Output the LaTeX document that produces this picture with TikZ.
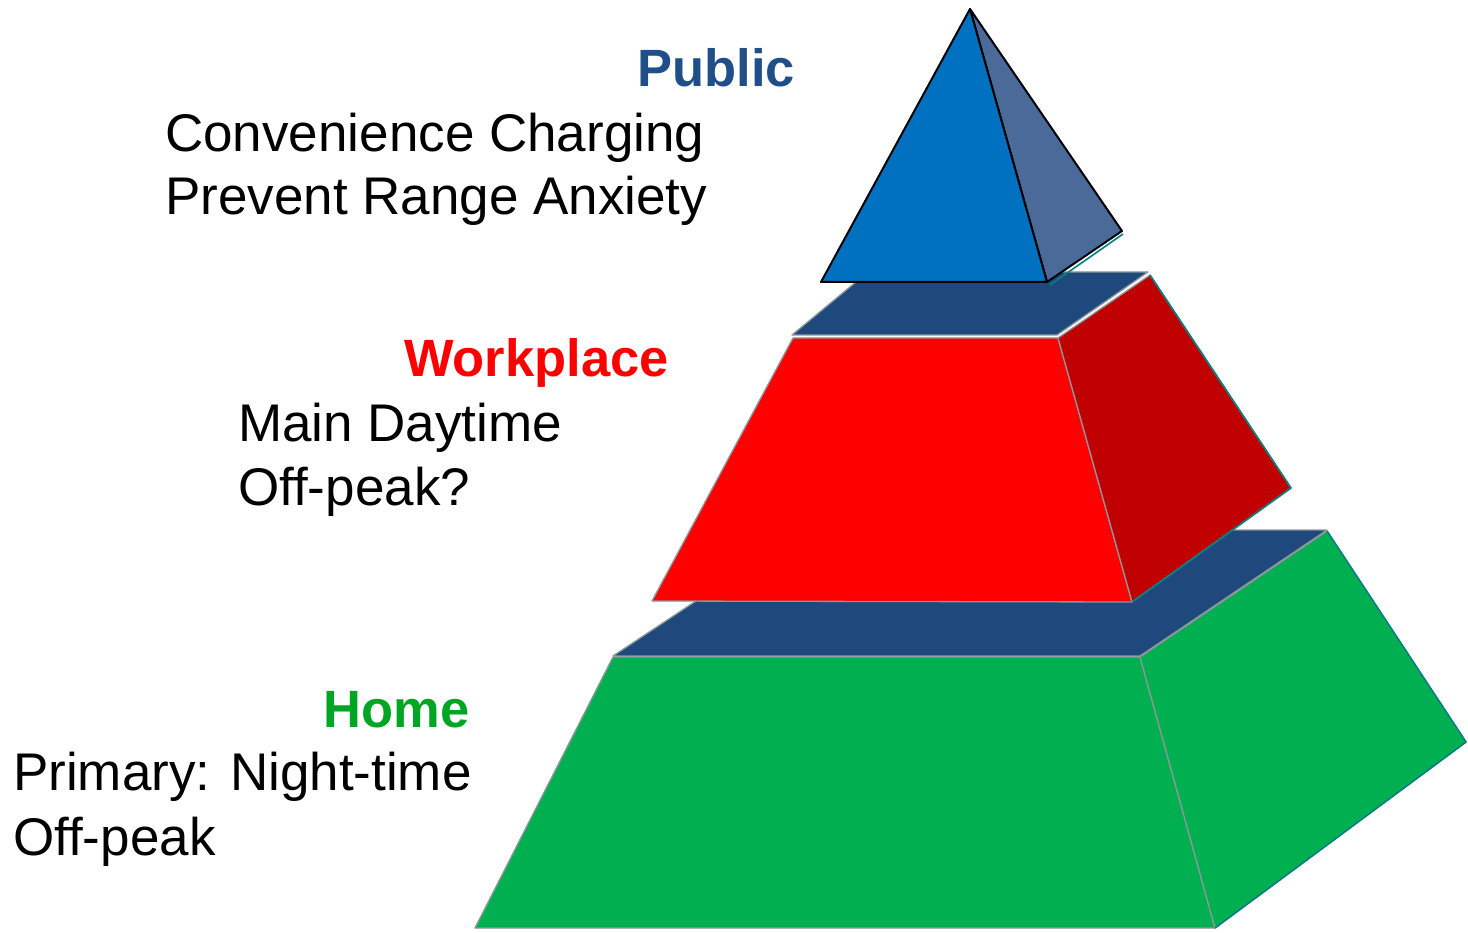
\documentclass[tikz,border=0pt]{standalone}
\usepackage{fontspec}
\setmainfont{Liberation Sans}
\usepackage{tikz}

\definecolor{pubblue}{RGB}{31,78,137}
\definecolor{pyrfront}{RGB}{0,112,192}
\definecolor{pyrside}{RGB}{74,106,154}
\definecolor{platenavy}{RGB}{31,73,125}
\definecolor{workred}{RGB}{255,0,0}
\definecolor{workside}{RGB}{192,0,0}
\definecolor{homegreen}{RGB}{0,176,80}
\definecolor{hometext}{RGB}{0,166,35}
\definecolor{edgegrey}{RGB}{140,150,155}
\definecolor{edgeteal}{RGB}{0,128,128}

\tikzset{
	face/.style={draw=edgegrey, line width=1.3pt, line join=round},
	plate/.style={fill=platenavy, draw=edgegrey, line width=1.3pt, line join=round},
	rim/.style={draw=edgeteal, line width=1.6pt, line join=round},
	heading/.style={font=\fontsize{52.5}{63}\selectfont\bfseries, inner sep=0pt},
	body/.style={font=\fontsize{53}{63}\selectfont, inner sep=0pt},
}

\begin{document}
\begin{tikzpicture}[x=1pt,y=-1pt]
	\useasboundingbox (0,0) rectangle (1468,933);
	
	% draw home layer
	\draw[face, fill=homegreen] (475,928) -- (613,657) -- (1140,657) -- (1215,928) -- cycle;
	\draw[face, fill=homegreen] (1140,657) -- (1327,531) -- (1466,742) -- (1215,928) -- cycle;
	\draw[rim] (1327,531) -- (1466,742) -- (1215,928);
	\draw[plate] (613,656) -- (803,530) -- (1327,530) -- (1140,656) -- cycle;
	
	% draw workplace layer
	\draw[face, fill=workred] (652,601) -- (793,338) -- (1058,338) -- (1132,602) -- cycle;
	\draw[face, fill=workside] (1058,338) -- (1150,275) -- (1291,488) -- (1132,602) -- cycle;
	\draw[rim] (1150,275) -- (1291,488) -- (1132,602);
	\draw[plate] (792,335) -- (868,272) -- (1148,272) -- (1057,335) -- cycle;
	
	% draw public pyramid
	\draw[fill=pyrside, line width=2pt, line join=round] (970,9) -- (1122,231) -- (1047,282) -- cycle;
	\draw[rim] (1123,234) -- (1050,285);
	\draw[fill=pyrfront, line width=2pt, line join=round] (821,282) -- (970,9) -- (1047,282) -- cycle;
	
	% draw labels
	\node[heading, text=pubblue, anchor=base east] (public) at (795,87) {Public};
	\node[body, anchor=base west] (convenience) at (165,152) {Convenience Charging};
	\node[body, anchor=base west] (range) at (165,215) {Prevent Range Anxiety};
	
	\node[heading, text=workred, anchor=base east] (workplace) at (669,377) {Workplace};
	\node[body, anchor=base west] (daytime) at (238,441) {Main Daytime};
	\node[body, anchor=base west] (offpeakwork) at (238,505) {Off-peak?};
	
	\node[heading, text=hometext, anchor=base east] (home) at (470,727) {Home};
	\node[body, anchor=base west] (primary) at (13,790) {Primary: Night-time};
	\node[body, anchor=base west] (offpeakhome) at (13,855) {Off-peak};
\end{tikzpicture}
\end{document}
